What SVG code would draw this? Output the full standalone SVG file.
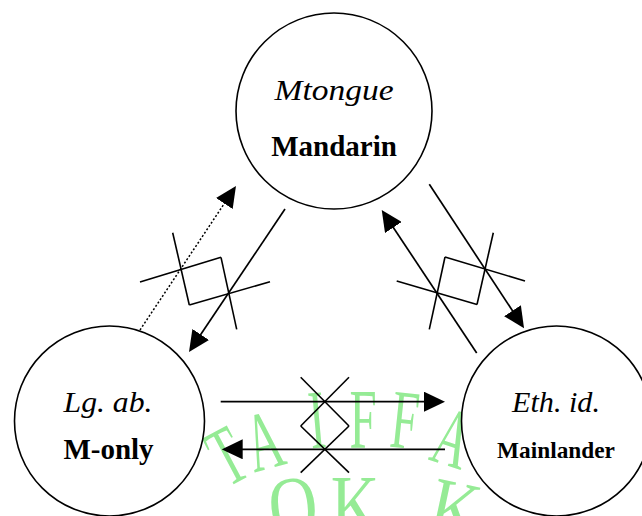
<svg xmlns="http://www.w3.org/2000/svg" width="642" height="516" viewBox="0 0 642 516">
  <defs>
    <marker id="head" viewBox="0 0 21 20" refX="16" refY="10" markerWidth="21" markerHeight="20" markerUnits="userSpaceOnUse" orient="auto">
      <path d="M0,0 L21,10 L0,20 Z" fill="#000"/>
    </marker>
  </defs>
  <style>
    .node circle { fill: #fff; stroke: #000; stroke-width: 1.6; }
    .it { font-family: 'Liberation Serif'; font-style: italic; font-size: 29px; text-anchor: middle; fill: #000; }
    .bd { font-family: 'Liberation Serif'; font-weight: bold; font-size: 29px; text-anchor: middle; fill: #000; }
    .small { font-size: 23.3px; }
    .conn line { stroke: #000; stroke-width: 1.7; fill: none; }
    .conn .dotted { stroke-width: 1.5; stroke-dasharray: 2 2; }
    .arrow { marker-end: url(#head); }
    .mark { stroke: #000; stroke-width: 1.6; fill: none; }
    .wm text { font-family: 'Liberation Serif'; fill: #95eb95; font-size: 84px; text-anchor: middle; }
  </style>

  <rect width="642" height="516" fill="#fff"/>

  <!-- background stamp lettering -->
  <g id="stamp" class="wm">
    <text transform="translate(227,456) rotate(-28) scale(0.58,1)" y="28">T</text>
    <text transform="translate(264,441) rotate(-15) scale(0.58,1)" y="28">A</text>
    <text transform="translate(317,420) rotate(-5) scale(0.58,1)" y="28">I</text>
    <text transform="translate(363,420) scale(0.58,1)" y="28">F</text>
    <text transform="translate(405,420) rotate(6) scale(0.58,1)" y="28">F</text>
    <text transform="translate(453,438) rotate(18) scale(0.58,1)" y="28">A</text>
    <text transform="translate(293,506) rotate(-6) scale(0.8,1)" y="28">O</text>
    <text transform="translate(355,506) scale(0.8,1)" y="28">K</text>
    <text transform="translate(455,510) rotate(12) scale(0.8,1)" y="28">K</text>
  </g>

  <!-- nodes -->
  <g id="node-mtongue" class="node">
    <circle cx="334" cy="111" r="98"/>
    <text class="it" x="334" y="100" textLength="119" lengthAdjust="spacingAndGlyphs">Mtongue</text>
    <text class="bd" x="334" y="156">Mandarin</text>
  </g>
  <g id="node-lgab" class="node">
    <circle cx="109.5" cy="421" r="95"/>
    <text class="it" x="108" y="412" textLength="89" lengthAdjust="spacingAndGlyphs">Lg. ab.</text>
    <text class="bd" x="108.5" y="459">M-only</text>
  </g>
  <g id="node-ethid" class="node">
    <circle cx="556.5" cy="421" r="95"/>
    <text class="it" x="556" y="412" textLength="88" lengthAdjust="spacingAndGlyphs">Eth. id.</text>
    <text class="bd small" x="556" y="458">Mainlander</text>
  </g>

  <!-- connectors -->
  <g id="connectors" class="conn">
    <line class="dotted arrow" x1="140" y1="330" x2="233.2" y2="190.2"/>
    <line class="arrow" x1="285" y1="209" x2="191.8" y2="347.8"/>
    <line class="arrow" x1="476.7" y1="353" x2="384.5" y2="214.2"/>
    <line class="arrow" x1="429.3" y1="184.3" x2="521.3" y2="324.1"/>
    <line class="arrow" x1="220.7" y1="401.7" x2="440" y2="401.7"/>
    <line class="arrow" x1="445" y1="449.3" x2="226.7" y2="449.3"/>
  </g>

  <!-- blocking marks across the connector pairs -->
  <g id="block-left" class="mark">
    <line x1="140" y1="282" x2="221" y2="257.3"/>
    <line x1="172.7" y1="232.7" x2="189.3" y2="305"/>
    <line x1="221" y1="257.3" x2="236.7" y2="329.3"/>
    <line x1="189.3" y1="305" x2="270" y2="281.7"/>
  </g>
  <g id="block-right" class="mark">
    <line x1="445" y1="257" x2="525" y2="281"/>
    <line x1="493.3" y1="232.7" x2="477" y2="304.5"/>
    <line x1="396.7" y1="281" x2="477" y2="304.5"/>
    <line x1="445" y1="257" x2="429.3" y2="329.3"/>
  </g>
  <g id="block-bottom" class="mark">
    <line x1="300.7" y1="377.3" x2="349" y2="426"/>
    <line x1="349" y1="377.3" x2="300.7" y2="426"/>
    <line x1="300.7" y1="426" x2="349" y2="472.7"/>
    <line x1="349" y1="426" x2="300.7" y2="472.7"/>
  </g>
</svg>
